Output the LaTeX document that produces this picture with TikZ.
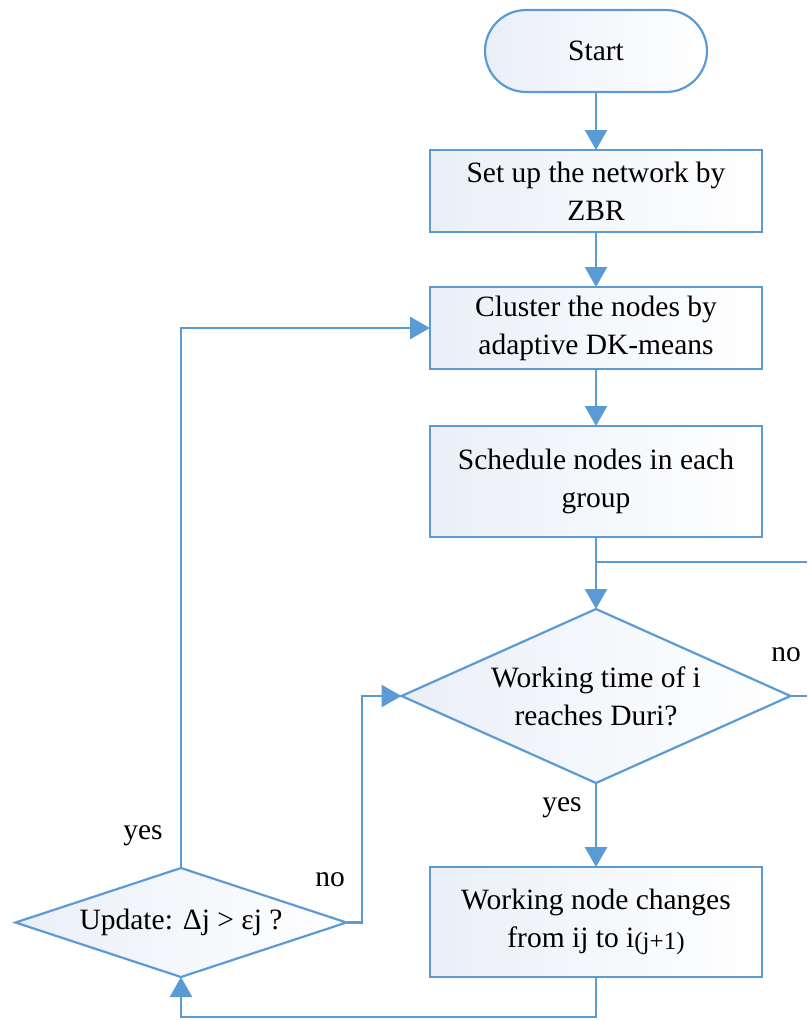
\documentclass[tikz,border=0pt]{standalone}
\usepackage{fontspec}
\setmainfont{Liberation Serif}
\usetikzlibrary{shapes.geometric,arrows.meta}
\definecolor{lc}{HTML}{5B9BD5}
\definecolor{fc}{HTML}{EAEFF7}
\newcommand\myfs{\fontsize{29.5}{38}\selectfont}
\begin{document}
\begin{tikzpicture}[x=1pt,y=-1pt,
  shp/.style={draw=lc, line width=2.2pt, left color=fc, right color=white, align=center, inner sep=0pt, outer sep=0pt, font=\myfs},
  box/.style={shp, rectangle, minimum width=332pt, minimum height=82pt},
  term/.style={shp, rectangle, rounded corners=41pt, minimum width=222pt, minimum height=82pt},
  dia/.style={shp, diamond},
  ln/.style={draw=lc, line width=2.6pt},
  arr/.style={ln, -{Triangle[length=20pt,width=22pt]}},
  lbl/.style={font=\myfs, inner sep=0pt}]
\useasboundingbox (0,0) rectangle (807,1020);
\node[term] (start) at (596,51) {Start};
\node[box] (b1) at (596,191) {Set up the network by\\ZBR};
\node[box] (b2) at (596,328) {Cluster the nodes by\\adaptive DK-means};
\node[box, minimum height=111pt] (b3) at (596,481.5) {Schedule nodes in each\\group};
\node[dia, aspect=2.24, minimum width=389pt, minimum height=174pt] (d1) at (596,696) {Working time of i\\reaches Duri?};
\node[box, minimum height=110pt] (b4) at (596,922) {Working node changes\\from ij to i{\fontsize{25}{25}\selectfont\raisebox{-2pt}{(j+1)}}};
\node[dia, aspect=3.04, minimum width=331pt, minimum height=109pt] (d2) at (181,922.5) {Update: Δj > εj ?};
\node[lbl] (no1) at (786,655) {no};
\node[lbl] (yes1) at (562,808) {yes};
\node[lbl] (no2) at (330,880) {no};
\node[lbl] (yes2) at (143,836) {yes};
\coordinate (j1) at (596,562);
\coordinate (e1) at (807,562);
\coordinate (e2) at (807,696);
\coordinate (bt) at (596,1017);
\coordinate (rx) at (362,922.5);
\draw[arr] (start) -- (b1);
\draw[arr] (b1) -- (b2);
\draw[arr] (b2) -- (b3);
\draw[arr] (b3) -- (d1);
\draw[ln] (j1) -- (e1);
\draw[ln] (d1.east) -- (e2);
\draw[arr] (d1) -- (b4);
\draw[arr] (b4.south) -- (bt) -| (d2.south);
\draw[arr] (d2.east) -- (rx) |- (d1.west);
\draw[arr] (d2.north) |- (b2.west);
\end{tikzpicture}
\end{document}
